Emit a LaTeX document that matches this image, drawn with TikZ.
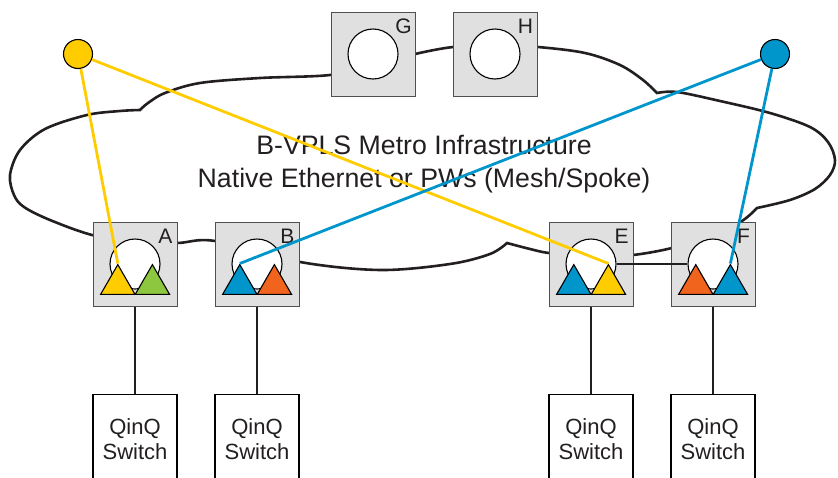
\documentclass[tikz,border=0pt]{standalone}
\usepackage{fontspec}
\setmainfont{Liberation Sans}
\usetikzlibrary{shapes.geometric,positioning,calc}
\definecolor{cYellow}{HTML}{FFCC00}
\definecolor{cGreen}{HTML}{8DC63F}
\definecolor{cBlue}{HTML}{0096CC}
\definecolor{cOrange}{HTML}{F0641E}
\definecolor{cBox}{HTML}{E0E0E0}
\definecolor{cEdge}{HTML}{505050}
\definecolor{cInk}{HTML}{231F20}

\begin{document}
\begin{tikzpicture}[
    x=1pt, y=-1pt,
    node distance=87pt,
    cloud/.style={draw=cInk, line width=2.6pt},
    pe/.style={rectangle, draw=cEdge, fill=cBox, line width=1pt, minimum size=84pt, inner sep=0pt},
    vsi/.style={circle, draw=black, fill=white, line width=1.1pt, minimum size=50pt, inner sep=0pt},
    port/.style={regular polygon, regular polygon sides=3, draw=black, line width=1.1pt, minimum size=39.6pt, inner sep=0pt},
    ce/.style={circle, draw=black, line width=1.1pt, minimum size=29pt, inner sep=0pt},
    qinq/.style={rectangle, draw=black, line width=1.8pt, fill=white, minimum width=84pt, minimum height=90pt, align=center, text=cInk, font=\fontsize{22}{25}\selectfont},
    lbl/.style={text=cInk, inner sep=0pt, font=\fontsize{21}{21}\selectfont},
    title/.style={text=cInk, align=center, font=\fontsize{26.7}{32.7}\selectfont},
    wire/.style={draw=cInk, line width=2pt},
    link/.style={line width=2.8pt}
]
\clip (0,0) rectangle (838,477);

% metro cloud
\draw[cloud] plot[smooth, tension=0.55] coordinates {(657,93) (643,80) (620,65) (585,53) (538,47) (495,45) (453,47) (415,54) (372,65) (330,75) (260,78) (200,83) (165,93) (148,103) (140,110)}
  -- plot[smooth, tension=0.55] coordinates {(140,110) (120,111) (87,115) (45,129) (20,150) (10,175) (14,195) (24,207) (50,220) (92,235) (135,242) (177,243) (215,241) (300,262) (380,270) (450,264) (490,254) (507,243)}
  -- plot[smooth, tension=0.55] coordinates {(507,243) (530,249) (549,253) (592,257) (633,255) (672,248) (712,236) (742,221) (757,208)}
  -- plot[smooth, tension=0.55] coordinates {(757,208) (790,200) (815,189) (830,175) (835,160) (828,142) (810,127) (770,113) (720,101) (677,92) (657,93)} -- cycle;

\node[title] (infra) at (424,164) {B-VPLS Metro Infrastructure\\Native Ethernet or PWs (Mesh/Spoke)};

% PE boxes with VSIs
\foreach \n/\x/\y in {G/373/54, H/495/54, A/135/264, B/257/264, E/591/264, F/713/264} {
  \node[pe] (\n) at (\x,\y) {};
  \node[vsi] (v\n) at (\x,\y) {};
  \node[lbl] (l\n) at ($(\n.north east)+(-12,15)$) {\n};
}

% attachment circuits
\foreach \n/\cl/\cr in {A/cYellow/cGreen, B/cBlue/cOrange, E/cBlue/cYellow, F/cOrange/cBlue} {
  \node[port, fill=\cl] (tL\n) at ($(\n.center)+(-17.2,20.4)$) {};
  \node[port, fill=\cr] (tR\n) at ($(\n.center)+(17.4,20.4)$) {};
}

% customer sites
\node[ce, fill=cYellow] (ceY) at (78,54) {};
\node[ce, fill=cBlue] (ceB) at (775,54) {};

% QinQ access
\foreach \n in {A,B,E,F} {
  \node[qinq, below=of \n] (q\n) {QinQ\\Switch};
  \draw[wire] (\n) -- (q\n);
}

\draw[wire] (vE) -- (vF);

\foreach \c/\t/\col in {ceY/tLA/cYellow, ceY/tRE/cYellow, ceB/tLB/cBlue, ceB/tRF/cBlue} {
  \draw[link, \col] (\c) -- (\t.corner 1);
}
\end{tikzpicture}
\end{document}
